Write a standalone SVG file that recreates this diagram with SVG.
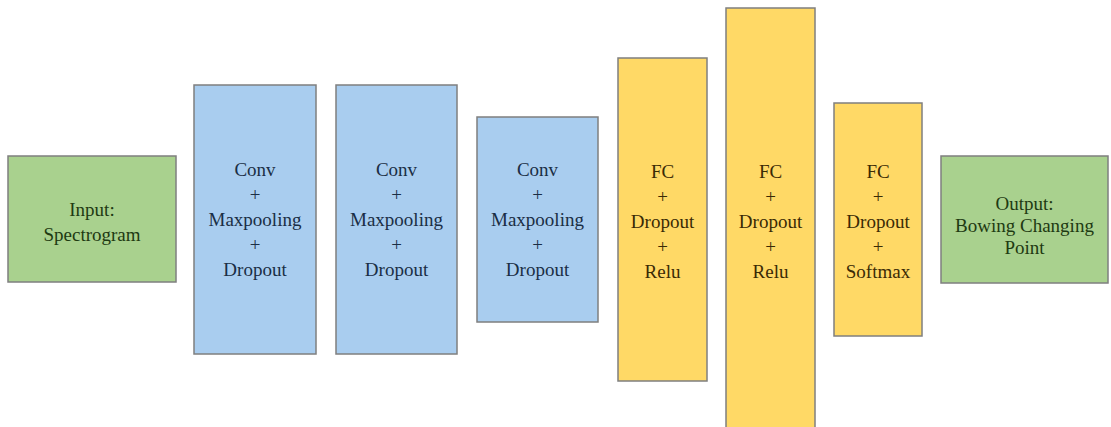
<svg xmlns="http://www.w3.org/2000/svg" width="1111" height="427" viewBox="0 0 1111 427">
<style>
.g,.b,.y{stroke:#7f7f7f;stroke-width:1.5}
.g{fill:#a9d18e}
.b{fill:#a9cdef}
.y{fill:#ffd966}
text{font-family:"Liberation Serif","Times New Roman",serif;font-size:19px;text-anchor:middle}
.tg{fill:#1e3a12}
.tb{fill:#1a2e45}
.ty{fill:#3a2a05}
</style>
<rect width="1111" height="427" fill="#ffffff"/>
<g id="connectors"></g>
<g id="input">
<rect class="g" x="8" y="156" width="168" height="126"/>
<text class="tg" x="92" y="216">Input:</text>
<text class="tg" x="92" y="241">Spectrogram</text>
</g>
<g id="conv1">
<rect class="b" x="194" y="85" width="122" height="269"/>
<text class="tb" x="255" y="176">Conv</text>
<text class="tb" x="255" y="201">+</text>
<text class="tb" x="255" y="226">Maxpooling</text>
<text class="tb" x="255" y="251">+</text>
<text class="tb" x="255" y="276">Dropout</text>
</g>
<g id="conv2">
<rect class="b" x="336" y="85" width="121" height="269"/>
<text class="tb" x="396.5" y="176">Conv</text>
<text class="tb" x="396.5" y="201">+</text>
<text class="tb" x="396.5" y="226">Maxpooling</text>
<text class="tb" x="396.5" y="251">+</text>
<text class="tb" x="396.5" y="276">Dropout</text>
</g>
<g id="conv3">
<rect class="b" x="477" y="117" width="121" height="205"/>
<text class="tb" x="537.5" y="176">Conv</text>
<text class="tb" x="537.5" y="201">+</text>
<text class="tb" x="537.5" y="226">Maxpooling</text>
<text class="tb" x="537.5" y="251">+</text>
<text class="tb" x="537.5" y="276">Dropout</text>
</g>
<g id="fc1">
<rect class="y" x="618" y="58" width="89" height="323"/>
<text class="ty" x="662.5" y="178">FC</text>
<text class="ty" x="662.5" y="203">+</text>
<text class="ty" x="662.5" y="228">Dropout</text>
<text class="ty" x="662.5" y="253">+</text>
<text class="ty" x="662.5" y="278">Relu</text>
</g>
<g id="fc2">
<rect class="y" x="726" y="8" width="89" height="425"/>
<text class="ty" x="770.5" y="178">FC</text>
<text class="ty" x="770.5" y="203">+</text>
<text class="ty" x="770.5" y="228">Dropout</text>
<text class="ty" x="770.5" y="253">+</text>
<text class="ty" x="770.5" y="278">Relu</text>
</g>
<g id="fc3">
<rect class="y" x="834" y="103" width="88" height="233"/>
<text class="ty" x="878" y="178">FC</text>
<text class="ty" x="878" y="203">+</text>
<text class="ty" x="878" y="228">Dropout</text>
<text class="ty" x="878" y="253">+</text>
<text class="ty" x="878" y="278">Softmax</text>
</g>
<g id="output">
<rect class="g" x="941" y="156" width="167" height="127"/>
<text class="tg" x="1024.5" y="210">Output:</text>
<text class="tg" x="1024.5" y="232">Bowing Changing</text>
<text class="tg" x="1024.5" y="254">Point</text>
</g>
</svg>
